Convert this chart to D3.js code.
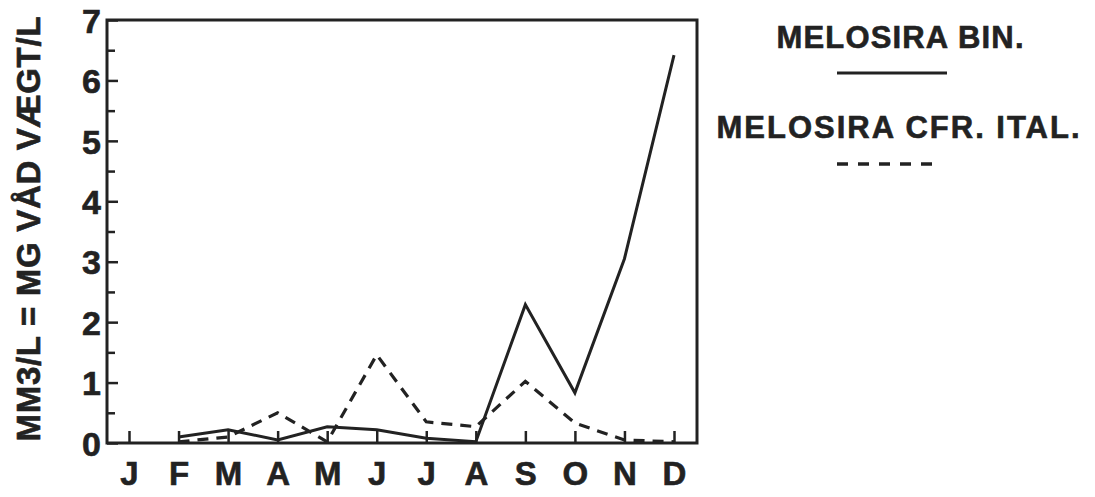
<!DOCTYPE html>
<html>
  <head>
    <meta charset="utf-8">
    <title>Melosira</title>
    <script src="https://d3js.org/d3.v7.min.js"></script>
    <style>
      body { margin: 0; background: #fff; }
      text { font-family: "Liberation Sans", Arial, sans-serif; font-weight: bold; fill: #222; stroke: #222; stroke-width: 0.6px; }
    </style>
  </head>
  <body>
    <div id="chart"></div>
    <script>
    // data
    const months = ["J", "F", "M", "A", "M", "J", "J", "A", "S", "O", "N", "D"];
    const melosiraBin = [null, 0.1, 0.22, 0.05, 0.27, 0.22, 0.08, 0.02, 2.29, 0.83, 3.05, 6.42];
    const melosiraItal = [null, 0.02, 0.1, 0.5, 0.02, 1.46, 0.35, 0.27, 1.02, 0.33, 0.05, 0.02];
    const yTicks = [0, 1, 2, 3, 4, 5, 6, 7];
    const yTitle = "MM3/L = MG VÅD VÆGT/L";
    const legendLabels = ["MELOSIRA BIN.", "MELOSIRA CFR. ITAL."];

    var margin = {top: 20, right: 398, bottom: 54, left: 107},
      width = 1095 - margin.left - margin.right,
      height = 497 - margin.top - margin.bottom;

    const svg = d3.select("#chart")
      .append("svg")
      .attr("width", 1095)
      .attr("height", 497);

    const g = svg.append("g")
      .attr("transform", "translate(" + margin.left + "," + margin.top + ")");

    const x = d3.scaleLinear()
      .domain([0, 11])
      .range([22, 567]);

    const y = d3.scaleLinear()
      .domain([0, 7])
      .range([height, 0]);

    // y axis, ticks every half unit pointing inward
    const yAxis = d3.axisLeft(y)
      .tickValues(d3.range(0, 7.01, 0.5))
      .tickSize(-10)
      .tickPadding(6)
      .tickFormat(d => yTicks.includes(d) ? d : "");
    const gy = g.append("g").call(yAxis);
    gy.select(".domain").remove();
    gy.selectAll("line").attr("stroke", "#222").attr("stroke-width", 2.5)
      .attr("x2", d => Number.isInteger(d) ? 11 : 8);
    gy.selectAll("text").style("font-size", "34px").attr("dy", "0.36em");

    // x axis, month ticks pointing up
    const xAxis = d3.axisBottom(x)
      .tickValues(d3.range(12))
      .tickSize(-12)
      .tickPadding(19)
      .tickFormat(i => months[i]);
    const gx = g.append("g")
      .attr("transform", "translate(0," + height + ")")
      .call(xAxis);
    gx.select(".domain").remove();
    gx.selectAll("line").attr("stroke", "#222").attr("stroke-width", 2.5);
    gx.selectAll("text").style("font-size", "33px");

    // frame
    g.append("rect")
      .attr("x", 0).attr("y", 0)
      .attr("width", width).attr("height", height)
      .attr("fill", "none")
      .attr("stroke", "#222")
      .attr("stroke-width", 3);

    const line = d3.line()
      .defined(d => d != null)
      .x((d, i) => x(i))
      .y(d => y(d));

    g.append("path")
      .datum(melosiraItal)
      .attr("fill", "none")
      .attr("stroke", "#222")
      .attr("stroke-width", 3.2)
      .attr("stroke-dasharray", "11,8")
      .attr("d", line);

    g.append("path")
      .datum(melosiraBin)
      .attr("fill", "none")
      .attr("stroke", "#222")
      .attr("stroke-width", 3)
      .attr("stroke-linejoin", "miter")
      .attr("d", line);

    // y title
    svg.append("text")
      .attr("transform", "translate(40,229) rotate(-90)")
      .attr("text-anchor", "middle")
      .attr("textLength", 425)
      .style("font-size", "33px")
      .text(yTitle);

    // legend
    const legend = svg.append("g");
    legend.append("text")
      .attr("x", 900).attr("y", 48)
      .attr("text-anchor", "middle")
      .attr("textLength", 247)
      .style("font-size", "31px")
      .text(legendLabels[0]);
    legend.append("line")
      .attr("x1", 837).attr("x2", 947)
      .attr("y1", 73).attr("y2", 73)
      .attr("stroke", "#222").attr("stroke-width", 3);
    legend.append("text")
      .attr("x", 898).attr("y", 138)
      .attr("text-anchor", "middle")
      .attr("textLength", 363)
      .style("font-size", "31px")
      .text(legendLabels[1]);
    legend.append("line")
      .attr("x1", 837).attr("x2", 933)
      .attr("y1", 164).attr("y2", 164)
      .attr("stroke", "#222").attr("stroke-width", 3.5)
      .attr("stroke-dasharray", "11,10");
    </script>
  </body>
</html>
